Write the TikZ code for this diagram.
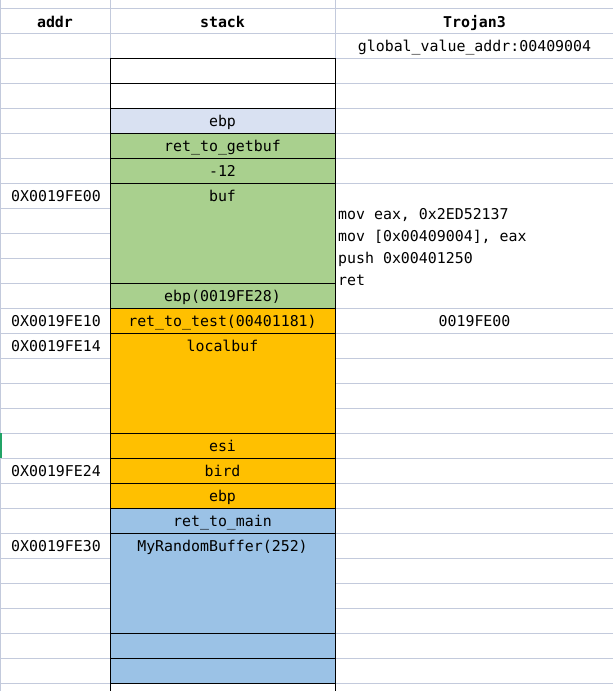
\documentclass[tikz,border=0pt]{standalone}
\usepackage{fontspec}
\setmonofont{DejaVu Sans Mono}
\usepackage{tikz}
\usetikzlibrary{positioning}

\definecolor{gridcol}{HTML}{C3CADC}
\definecolor{ebpblue}{HTML}{D9E1F2}
\definecolor{getgreen}{HTML}{A9D08E}
\definecolor{testorange}{HTML}{FFC000}
\definecolor{mainblue}{HTML}{9BC2E6}
\definecolor{selgreen}{HTML}{21A366}
\newcommand{\cellfont}{\ttfamily\fontsize{14.9}{18}\selectfont}

\begin{document}
\begin{tikzpicture}[x=1pt,y=-1pt,
    gridline/.style={gridcol, line width=1pt},
    cellline/.style={black, line width=1pt},
    txt/.style={font=\cellfont, inner sep=0pt, anchor=base},
    head/.style={font=\cellfont\bfseries, inner sep=0pt, anchor=base},
    code/.style={font=\cellfont, inner sep=0pt, anchor=base west}]

    \useasboundingbox (0,0) rectangle (613,691);
    \fill[white] (0,0) rectangle (613,691);

    % sheet grid
    \foreach \y in {8,33,...,683} {
        \draw[gridline] (0,\y) -- (613,\y);
    }
    \foreach \x in {0.5,110,335} {
        \draw[gridline] (\x,0) -- (\x,691);
    }
    \fill[white] (336,184) rectangle (613,307);   % merged cell, Trojan3
    \draw[selgreen, line width=1.5pt] (0.75,433) -- (0.75,458);

    % stack cells
    \fill[white] (110,58) rectangle (335,108);
    \fill[ebpblue] (110,108) rectangle (335,133);
    \fill[getgreen] (110,133) rectangle (335,308);
    \fill[testorange] (110,308) rectangle (335,508);
    \fill[mainblue] (110,508) rectangle (335,683);
    \fill[white] (110,683) rectangle (335,691);

    \draw[cellline] (110,58) -- (110,691);
    \draw[cellline] (335,58) -- (335,691);
    \foreach \y in {58,83,108,133,158,183,283,308,333,433,458,483,508,533,633,658,683} {
        \draw[cellline] (110,\y) -- (335,\y);
    }

    % headers
    \node[head] (addrhead) at (55,27) {addr};
    \node[head] (stackhead) at (222.5,27) {stack};
    \node[head] (trojhead) at (474.5,27) {Trojan3};
    \node[txt] (globaddr) at (474.5,51.5) {global\_value\_addr:00409004};

    % addresses
    \node[txt] (addr00) at (56,201) {0X0019FE00};
    \node[txt] (addr10) at (56,326) {0X0019FE10};
    \node[txt] (addr14) at (56,351) {0X0019FE14};
    \node[txt] (addr24) at (56,476) {0X0019FE24};
    \node[txt] (addr30) at (56,551) {0X0019FE30};

    % stack contents
    \node[txt] (ebpget) at (222.5,126) {ebp};
    \node[txt] (retget) at (222.5,151) {ret\_to\_getbuf};
    \node[txt] (minus) at (222.5,176) {-12};
    \node[txt] (buf) at (222.5,201) {buf};
    \node[txt] (ebpsave) at (222.5,301) {ebp(0019FE28)};
    \node[txt] (rettest) at (222.5,326) {ret\_to\_test(00401181)};
    \node[txt] (localbuf) at (222.5,351) {localbuf};
    \node[txt] (esi) at (222.5,451) {esi};
    \node[txt] (bird) at (222.5,476) {bird};
    \node[txt] (ebptest) at (222.5,501) {ebp};
    \node[txt] (retmain) at (222.5,526) {ret\_to\_main};
    \node[txt] (randbuf) at (222.5,551) {MyRandomBuffer(252)};

    % Trojan3 code
    \node[code] (code1) at (338,219.5) {mov eax, 0x2ED52137};
    \node[code] (code2) at (338,241.5) {mov [0x00409004], eax};
    \node[code] (code3) at (338,263.5) {push 0x00401250};
    \node[code] (code4) at (338,285.5) {ret};
    \node[txt] (newret) at (474.5,326) {0019FE00};

\end{tikzpicture}
\end{document}
